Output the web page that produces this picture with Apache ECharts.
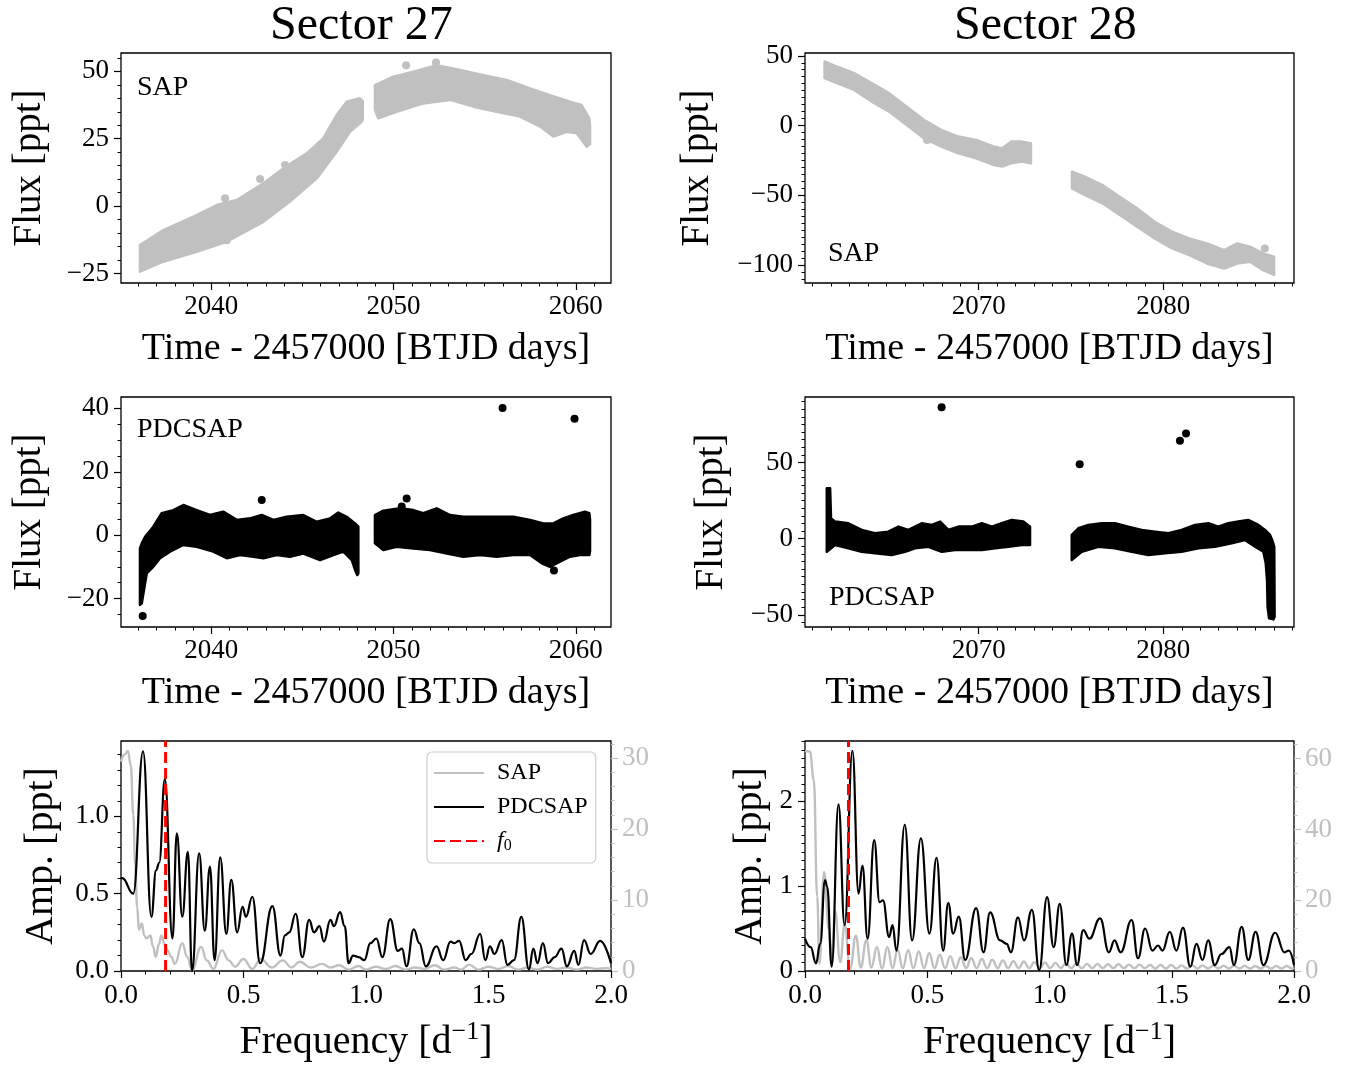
<!DOCTYPE html>
<html><head><meta charset="utf-8">
<script src="https://cdn.jsdelivr.net/npm/echarts@6/dist/echarts.min.js"></script>
<style>html,body{margin:0;padding:0;background:#fff}#c{width:1362px;height:1068px}</style>
</head><body><div id="c"></div>
<script>
// ---------------- DATA ----------------
// Sector 27 SAP: upper / lower envelope of the scatter cloud, two segments
const s27SapTopT1 = [2036.09, 2037.37, 2039.20, 2040.30, 2041.40, 2042.86, 2043.95, 2045.24, 2046.15, 2046.88, 2047.43, 2048.16, 2048.31];
const s27SapTopF1 = [-14.4, -8.85, -3.3, 0.4, 2.3, 8.5, 14.0, 19.6, 25.2, 33.8, 38.7, 40.0, 39.0];
const s27SapBotT1 = [2036.09, 2037.37, 2039.20, 2040.85, 2042.86, 2044.32, 2045.79, 2046.88, 2047.61, 2048.25, 2048.31];
const s27SapBotF1 = [-24.3, -20.6, -16.9, -13.2, -5.8, 1.7, 10.3, 20.2, 27.6, 31.3, 32];
const s27SapTopT2 = [2048.98, 2049.99, 2051.09, 2052.37, 2053.65, 2054.93, 2056.21, 2057.49, 2058.58, 2059.68, 2060.32, 2060.74, 2060.78];
const s27SapTopF2 = [44.9, 48.0, 49.9, 52.3, 50.5, 48.6, 46.8, 43.7, 41.2, 38.7, 37.5, 32.6, 30];
const s27SapBotT2 = [2048.98, 2049.16, 2050.17, 2051.63, 2053.1, 2054.38, 2055.66, 2056.94, 2058.04, 2058.77, 2059.5, 2060.05, 2060.6, 2060.78];
const s27SapBotF2 = [35.7, 32.6, 35.0, 38.1, 39.4, 36.9, 35.0, 33.2, 29.5, 25.8, 27.6, 27.0, 22.0, 23];
const s27SapOutT = [2042.68, 2044.05, 2040.76, 2040.85, 2050.69, 2052.33];
const s27SapOutF = [10.1, 15.3, 2.9, -12.6, 52.3, 53.3];

// Sector 28 SAP
const s28SapT1 = [2061.65, 2062.31, 2063.25, 2064.2, 2065.14, 2066.08, 2067.03, 2067.97, 2068.9, 2069.86, 2070.8, 2071.27, 2071.75, 2072.33, 2072.83];
const s28SapHi1 = [45.9, 42.3, 37.6, 30.4, 23.2, 13.6, 4.1, -3.1, -7.9, -10.3, -15, -16.3, -11.5, -11.5, -12.7];
const s28SapLo1 = [34, 30.4, 25.6, 17.2, 10, 0.5, -9.1, -15, -19.9, -23.4, -28.2, -29.4, -27, -25.8, -27];
const s28SapT2 = [2075.05, 2075.75, 2076.7, 2077.64, 2078.58, 2079.53, 2080.47, 2081.4, 2082.36, 2083.3, 2084.0, 2084.7, 2085.4, 2086.0];
const s28SapHi2 = [-33, -36.6, -42.6, -51, -59.3, -68.9, -76, -80.9, -84.4, -89.2, -84.4, -86.8, -91.6, -94];
const s28SapLo2 = [-45, -49.8, -55.7, -64.1, -72.5, -80.9, -88, -92.8, -98.8, -102.4, -98.8, -97.6, -103.6, -107];
const s28SapOutT = [2067.2, 2085.5];
const s28SapOutF = [-10.3, -88];

// Sector 27 PDCSAP
const s27PdcTopT1 = [2036.09, 2036.19, 2036.37, 2036.82, 2037.28, 2037.92, 2038.47, 2039.20, 2039.93, 2040.66, 2041.40, 2042.13, 2042.77, 2043.41, 2044.14, 2045.05, 2045.79, 2046.52, 2046.97, 2047.43, 2047.89, 2048.07];
const s27PdcTopF1 = [-4.2, -2.6, -0.5, 2.65, 6.9, 7.9, 9.5, 7.9, 6.35, 7.4, 4.8, 5.3, 6.35, 4.8, 5.8, 6.35, 4.2, 5.3, 7.1, 5.8, 3.7, 2.65];
const s27PdcBotT1 = [2036.09, 2036.19, 2036.46, 2036.82, 2037.19, 2037.74, 2038.47, 2039.20, 2040.11, 2040.85, 2041.58, 2042.31, 2042.86, 2043.59, 2044.32, 2045.05, 2045.97, 2046.70, 2047.25, 2047.71, 2047.89, 2048.01, 2048.07];
const s27PdcBotF1 = [-22, -21.5, -12.1, -10.0, -7.3, -5.2, -3.1, -3.7, -5.2, -7.3, -6.3, -6.8, -7.3, -6.3, -6.8, -5.8, -7.9, -6.3, -5.2, -7.9, -11.0, -12.6, -12];
const s27PdcTopT2 = [2048.98, 2049.44, 2050.36, 2051.09, 2051.63, 2052.37, 2053.10, 2053.83, 2054.75, 2055.66, 2056.57, 2057.49, 2058.22, 2058.77, 2059.31, 2059.86, 2060.5, 2060.74, 2060.78];
const s27PdcTopF2 = [6.35, 7.7, 8.45, 7.9, 6.9, 8.45, 6.35, 5.8, 5.8, 5.8, 5.8, 4.8, 3.7, 3.7, 5.3, 6.35, 7.4, 6.9, 5];
const s27PdcBotT2 = [2048.98, 2049.44, 2050.17, 2051.09, 2052.0, 2052.92, 2053.83, 2054.75, 2055.66, 2056.57, 2057.49, 2058.13, 2058.58, 2059.13, 2059.68, 2060.23, 2060.74, 2060.78];
const s27PdcBotF2 = [-2.6, -4.7, -3.7, -4.2, -4.7, -5.8, -6.8, -6.3, -6.8, -6.3, -6.3, -8.9, -10.0, -8.4, -6.8, -6.3, -6.3, -5];
const s27PdcOutT = [2055.98, 2059.93, 2042.77, 2050.72, 2050.45, 2058.8, 2036.24];
const s27PdcOutF = [40.1, 36.7, 11.1, 11.6, 9.0, -11.2, -25.5];

// Sector 28 PDCSAP
const s28PdcTopT1 = [2061.77, 2061.95, 2062.0, 2062.22, 2062.94, 2063.66, 2064.38, 2065.1, 2065.65, 2066.19, 2066.91, 2067.46, 2067.91, 2068.36, 2068.9, 2069.63, 2070.17, 2070.71, 2071.25, 2071.79, 2072.42, 2072.78];
const s28PdcTopF1 = [33.1, 33.1, 13.4, 11.2, 10.1, 5.7, 3.5, 4.6, 7.9, 5.7, 10.1, 9.0, 11.2, 5.7, 7.9, 7.9, 10.1, 7.9, 10.1, 12.3, 11.2, 7.9];
const s28PdcBotT1 = [2061.77, 2062.22, 2062.94, 2063.66, 2064.38, 2065.29, 2066.01, 2066.55, 2067.27, 2068.0, 2068.72, 2069.45, 2070.17, 2070.89, 2071.61, 2072.33, 2072.78];
const s28PdcBotF1 = [-8.6, -4.2, -6.3, -8.6, -9.6, -10.7, -8.6, -6.3, -5.3, -8.6, -7.4, -7.4, -7.4, -6.3, -5.3, -4.2, -4.2];
const s28PdcTopT2 = [2075.04, 2075.40, 2075.94, 2076.66, 2077.38, 2078.10, 2078.83, 2079.55, 2080.27, 2080.99, 2081.72, 2082.44, 2082.98, 2083.52, 2084.06, 2084.6, 2085.15, 2085.51, 2085.78, 2085.9, 2086.01, 2086.03];
const s28PdcTopF2 = [2.4, 6.8, 9.0, 10.1, 10.1, 7.9, 5.7, 4.6, 3.5, 5.7, 9.0, 10.1, 7.9, 10.1, 11.2, 12.3, 9.0, 5.7, 2.4, -0.9, -5.3, -51.2];
const s28PdcBotT2 = [2075.04, 2075.58, 2076.48, 2077.38, 2078.29, 2079.19, 2080.09, 2080.99, 2081.9, 2082.8, 2083.7, 2084.42, 2084.97, 2085.42, 2085.55, 2085.62, 2085.65, 2085.73, 2085.96];
const s28PdcBotF2 = [-14.0, -8.6, -5.3, -6.3, -8.6, -10.7, -9.6, -8.6, -6.3, -5.3, -3.1, -0.9, -5.3, -8.6, -16.2, -27.1, -44.7, -52.3, -53.0];
const s28PdcOutT = [2067.99, 2075.47, 2080.9, 2081.23];
const s28PdcOutF = [86.2, 48.8, 64.3, 69.1];

// Periodograms: Sector 27
const s27FreqPdc = [0.0,0.005,0.05,0.09,0.124,0.143,0.156,0.179,0.21,0.228,0.25,0.273,0.29,0.319,0.342,0.363,0.382,0.405,0.43,0.45,0.474,0.496,0.51,0.536,0.568,0.618,0.651,0.669,0.687,0.713,0.74,0.768,0.788,0.81,0.828,0.855,0.869,0.894,0.913,0.929,0.947,0.97,0.993,1.018,1.042,1.067,1.099,1.13,1.147,1.165,1.195,1.218,1.244,1.288,1.315,1.345,1.36,1.38,1.407,1.43,1.466,1.487,1.506,1.524,1.554,1.577,1.604,1.634,1.665,1.683,1.70,1.722,1.743,1.77,1.798,1.82,1.85,1.867,1.89,1.917,1.956,2.0];
const s27AmpPdc = [0.6,0.6,0.50,1.42,0.35,0.65,0.70,1.24,0.21,0.89,0.35,0.77,0.0,0.76,0.26,0.675,0.07,0.735,0.24,0.59,0.25,0.415,0.35,0.48,0.05,0.42,0.10,0.23,0.25,0.37,0.09,0.33,0.25,0.29,0.19,0.33,0.29,0.38,0.29,0.05,0.10,0.09,0.07,0.18,0.21,0.09,0.335,0.13,0.145,0.03,0.27,0.18,0.03,0.16,0.07,0.19,0.18,0.195,0.07,0.11,0.24,0.07,0.16,0.11,0.20,0.04,0.07,0.35,0.01,0.145,0.05,0.18,0.05,0.09,0.145,0.03,0.13,0.04,0.20,0.11,0.195,0.05];
const s27FreqSap = [0,0.015,0.028,0.04,0.05,0.058,0.066,0.073,0.085,0.095,0.103,0.12,0.13,0.142,0.155,0.165,0.178,0.19,0.205,0.22,0.25,0.27,0.29,0.327,0.35,0.377,0.412,0.44,0.465,0.50,0.536,0.57,0.616,0.66,0.696,0.73,0.775,0.82,0.855,0.89,0.93,0.97,1.0,1.04,1.08,1.12,1.16,1.2,1.24,1.28,1.32,1.36,1.39,1.42,1.46,1.5,1.54,1.58,1.62,1.66,1.70,1.74,1.78,1.82,1.86,1.9,1.94,1.98,2.0];
const s27AmpSap = [29.5,30.5,31,29,22,15,9,5.8,6.7,5,4.6,5.0,3.5,2.0,3.8,5.0,3.8,2.9,2.0,1.0,3.9,2.0,0.1,3.4,1.5,0.3,2.9,1.5,0.6,1.7,0.3,1.7,0.5,1.5,0.5,1.3,0.5,1.0,0.5,0.8,0.2,0.7,0.2,0.6,0.3,0.7,0.2,0.5,0.3,0.8,0.2,0.5,0.2,0.9,0.2,0.6,0.3,0.7,0.2,0.5,0.2,0.6,0.3,0.5,0.2,0.5,0.3,0.4,0.3];
const s27F0 = 0.182;

// Periodograms: Sector 28
const s28FreqPdc = [0.0,0.023,0.045,0.062,0.082,0.091,0.109,0.137,0.162,0.194,0.219,0.235,0.256,0.283,0.305,0.319,0.344,0.358,0.374,0.408,0.438,0.474,0.509,0.538,0.565,0.586,0.606,0.629,0.655,0.70,0.73,0.757,0.798,0.825,0.842,0.871,0.896,0.928,0.958,0.99,1.017,1.042,1.069,1.092,1.113,1.138,1.163,1.207,1.243,1.266,1.291,1.336,1.362,1.391,1.421,1.444,1.462,1.492,1.519,1.546,1.576,1.601,1.626,1.649,1.676,1.703,1.736,1.754,1.786,1.813,1.843,1.875,1.923,1.961,1.979,2.0];
const s28AmpPdc = [0.38,0.28,0.09,0.32,1.07,0.99,0.05,1.96,0.54,2.59,0.91,1.24,0.38,1.54,0.81,0.83,0.40,0.54,0.24,1.72,0.36,1.56,0.44,1.33,0.24,0.80,0.44,0.64,0.13,0.74,0.22,0.69,0.36,0.32,0.22,0.63,0.36,0.72,0.01,0.87,0.28,0.79,0.07,0.44,0.07,0.48,0.38,0.62,0.22,0.36,0.22,0.60,0.15,0.50,0.24,0.30,0.24,0.46,0.24,0.51,0.05,0.32,0.13,0.36,0.07,0.20,0.28,0.07,0.52,0.13,0.46,0.07,0.45,0.22,0.24,0.07];
const s28FreqSap = [0,0.02,0.036,0.05,0.059,0.078,0.098,0.109,0.123,0.144,0.162,0.185,0.208,0.228,0.251,0.272,0.294,0.315,0.337,0.358,0.379,0.40,0.422,0.443,0.465,0.487,0.508,0.53,0.551,0.573,0.594,0.616,0.637,0.659,0.68,0.702,0.723,0.745,0.766,0.788,0.809,0.831,0.852,0.874,0.895,0.917,0.938,0.96,0.981,1.003,1.024,1.046,1.067,1.089,1.11,1.132,1.153,1.175,1.196,1.218,1.239,1.261,1.282,1.304,1.325,1.347,1.368,1.39,1.411,1.433,1.454,1.476,1.497,1.519,1.54,1.562,1.583,1.605,1.626,1.648,1.669,1.691,1.712,1.734,1.755,1.777,1.798,1.82,1.841,1.863,1.884,1.906,1.927,1.949,1.97,1.992,2.0];
const s28AmpSap = [62.2,62,54,21,2,28,11.5,3,17,2.5,13,0.7,10,1,8.7,1,6.8,0.7,6.8,0.8,6,0.8,5.9,0.8,5.5,0.8,5.0,0.8,4.6,0.8,4.2,0.8,3.9,0.8,3.6,0.8,3.4,0.8,3.2,0.8,3.0,0.8,2.8,0.8,2.7,0.8,2.5,0.8,2.4,0.8,2.3,0.8,2.2,0.8,2.1,0.8,2.0,0.8,2.0,0.8,1.9,0.8,1.9,0.8,1.8,0.8,1.8,0.8,1.7,0.7,1.7,0.7,1.7,0.7,1.6,0.7,1.6,0.7,1.6,0.7,1.5,0.7,1.5,0.7,1.5,0.7,1.5,0.7,1.4,0.7,1.4,0.7,1.4,0.7,1.4,0.7,0.9];
const s28F0 = 0.178;

// Tick values
const ticksTime27 = [2040, 2050, 2060];
const ticksTime28 = [2070, 2080];
const ticksSap27 = [-25, 0, 25, 50];
const ticksSap28 = [-100, -50, 0, 50];
const ticksPdc27 = [-20, 0, 20, 40];
const ticksPdc28 = [-50, 0, 50];
const ticksFreq = [0, 0.5, 1.0, 1.5, 2.0];
const ticksAmp27 = [0, 0.5, 1.0];
const ticksAmpSap27 = [0, 10, 20, 30];
const ticksAmp28 = [0, 1, 2];
const ticksAmpSap28 = [0, 20, 40, 60];

// ---------------- STYLE / LAYOUT ----------------
const FONT = "'Liberation Serif', 'DejaVu Serif', serif";
const GREY = '#c0c0c0';
const grids = [
  {left:121, top:53, width:490, height:230},
  {left:805, top:53, width:489, height:230},
  {left:121, top:397, width:490, height:230},
  {left:805, top:397, width:489, height:230},
  {left:121, top:741, width:490, height:230},
  {left:805, top:741, width:489, height:230}
].map(g => Object.assign({show:true, borderColor:'#000', borderWidth:1.3, backgroundColor:'rgba(0,0,0,0)'}, g));

const minus = v => v < 0 ? '\u2212' + Math.abs(v) : String(v);
const fix1 = v => v.toFixed(1);

const xAxes = [], yAxes = [];
function minorVals(min, max, step) {
  const out = [];
  for (let k = Math.ceil(min / step - 1e-9); k <= Math.floor(max / step + 1e-9); k++) out.push(+(k * step).toFixed(6));
  return out;
}
function addAxis(list, grid, min, max, majors, minorStep, c) {
  const color = c.color || '#000';
  const base = {type:'value', gridIndex:grid, min:min, max:max, position:c.position, offset:0,
    axisLine:{show:false, onZero:false}, splitLine:{show:false}, axisPointer:{show:false}};
  const major = Object.assign({}, base, {
    axisTick:{show:true, inside:false, length:7, customValues:majors, lineStyle:{color:color, width:1.2}},
    axisLabel:{show:true, customValues:majors, formatter:c.fmt, color:color, fontSize:27, fontFamily:FONT, margin:c.margin || 10},
    name:c.name || '', nameLocation:'middle', nameGap:c.nameGap || 40, nameRotate:c.nameRotate || 0,
    nameTextStyle:Object.assign({fontSize:c.nameSize || 38, fontFamily:FONT, color:'#000'}, c.nameStyle || {})
  });
  const minor = Object.assign({}, base, {
    axisTick:{show:true, inside:false, length:3.5, customValues:minorVals(min, max, minorStep), lineStyle:{color:color, width:1}},
    axisLabel:{show:false}
  });
  const idx = list.length;
  list.push(major, minor);
  return idx;
}

const TIME = 'Time - 2457000 [BTJD days]';
const FREQ = 'Frequency [d{sup|\u22121}]';
const freqRich = {sup:{fontSize:26, fontFamily:FONT, color:'#000', padding:[0,0,20,0]}};

const xi = [];
xi[0] = addAxis(xAxes, 0, 2035.05, 2061.93, ticksTime27, 1, {position:'bottom', fmt:String, name:TIME, nameGap:47, margin:10});
xi[1] = addAxis(xAxes, 1, 2060.59, 2087.08, ticksTime28, 1, {position:'bottom', fmt:String, name:TIME, nameGap:47, margin:10});
xi[2] = addAxis(xAxes, 2, 2035.05, 2061.93, ticksTime27, 1, {position:'bottom', fmt:String, name:TIME, nameGap:47, margin:10});
xi[3] = addAxis(xAxes, 3, 2060.59, 2087.08, ticksTime28, 1, {position:'bottom', fmt:String, name:TIME, nameGap:47, margin:10});
xi[4] = addAxis(xAxes, 4, 0, 2, ticksFreq, 0.1, {position:'bottom', fmt:fix1, name:FREQ, nameGap:48, margin:11, nameSize:40, nameStyle:{rich:freqRich}});
xi[5] = addAxis(xAxes, 5, 0, 2, ticksFreq, 0.1, {position:'bottom', fmt:fix1, name:FREQ, nameGap:48, margin:11, nameSize:40, nameStyle:{rich:freqRich}});

const yi = [];
yi[0] = addAxis(yAxes, 0, -28.5, 56.8, ticksSap27, 5, {position:'left', fmt:minus, name:'Flux [ppt]', nameGap:72, nameRotate:90, margin:12, nameSize:39});
yi[1] = addAxis(yAxes, 1, -112.8, 52, ticksSap28, 5, {position:'left', fmt:minus, name:'Flux [ppt]', nameGap:88, nameRotate:90, margin:12, nameSize:39});
yi[2] = addAxis(yAxes, 2, -29, 43.6, ticksPdc27, 5, {position:'left', fmt:minus, name:'Flux [ppt]', nameGap:72, nameRotate:90, margin:12, nameSize:39});
yi[3] = addAxis(yAxes, 3, -58, 93, ticksPdc28, 5, {position:'left', fmt:minus, name:'Flux [ppt]', nameGap:74, nameRotate:90, margin:12, nameSize:39});
yi[4] = addAxis(yAxes, 4, 0, 1.487, ticksAmp27, 0.1, {position:'left', fmt:fix1, name:'Amp. [ppt]', nameGap:60, nameRotate:90, margin:12, nameSize:40});
const yi4r = addAxis(yAxes, 4, 0, 32.4, ticksAmpSap27, 2, {position:'right', fmt:String, color:GREY, margin:11});
yi[5] = addAxis(yAxes, 5, 0, 2.705, ticksAmp28, 0.1, {position:'left', fmt:String, name:'Amp. [ppt]', nameGap:35, nameRotate:90, margin:12, nameSize:40});
const yi5r = addAxis(yAxes, 5, 0, 65, ticksAmpSap28, 4, {position:'right', fmt:String, color:GREY, margin:11});

// ---------------- SERIES ----------------
function band(xIdx, yIdx, tTop, fTop, tBot, fBot, color) {
  return {
    type:'custom', xAxisIndex:xIdx, yAxisIndex:yIdx, silent:true, clip:true, z:2,
    data:[[tTop[0], fTop[0]]],
    renderItem:function (params, api) {
      const pts = [];
      for (let i = 0; i < tTop.length; i++) pts.push(api.coord([tTop[i], fTop[i]]));
      for (let i = tBot.length - 1; i >= 0; i--) pts.push(api.coord([tBot[i], fBot[i]]));
      return {type:'polygon', shape:{points:pts}, style:{fill:color, stroke:color, lineWidth:2.5, lineJoin:'round'}};
    }
  };
}
function dots(xIdx, yIdx, t, f, color) {
  return {type:'scatter', xAxisIndex:xIdx, yAxisIndex:yIdx, silent:true, z:3, symbolSize:8,
    itemStyle:{color:color, opacity:1}, data:t.map((v, i) => [v, f[i]])};
}
function curve(name, xIdx, yIdx, fr, amp, color, w, z) {
  return {type:'line', name:name, xAxisIndex:xIdx, yAxisIndex:yIdx, showSymbol:false, symbol:'none',
    smooth:0.45, smoothMonotone:'x', clip:true, silent:true, z:z,
    lineStyle:{color:color, width:w}, itemStyle:{color:color},
    data:fr.map((v, i) => [v, amp[i]])};
}
function f0Line(xIdx, yIdx, f0, ymax) {
  return {type:'line', name:'f0', xAxisIndex:xIdx, yAxisIndex:yIdx, showSymbol:false, symbol:'none', silent:true, z:6,
    lineStyle:{color:'#ff0000', width:3, type:[11,5]}, itemStyle:{color:'#ff0000'},
    data:[[f0, 0], [f0, ymax]]};
}

const series = [
  band(xi[0], yi[0], s27SapTopT1, s27SapTopF1, s27SapBotT1, s27SapBotF1, GREY),
  band(xi[0], yi[0], s27SapTopT2, s27SapTopF2, s27SapBotT2, s27SapBotF2, GREY),
  dots(xi[0], yi[0], s27SapOutT, s27SapOutF, GREY),
  band(xi[1], yi[1], s28SapT1, s28SapHi1, s28SapT1, s28SapLo1, GREY),
  band(xi[1], yi[1], s28SapT2, s28SapHi2, s28SapT2, s28SapLo2, GREY),
  dots(xi[1], yi[1], s28SapOutT, s28SapOutF, GREY),
  band(xi[2], yi[2], s27PdcTopT1, s27PdcTopF1, s27PdcBotT1, s27PdcBotF1, '#000'),
  band(xi[2], yi[2], s27PdcTopT2, s27PdcTopF2, s27PdcBotT2, s27PdcBotF2, '#000'),
  dots(xi[2], yi[2], s27PdcOutT, s27PdcOutF, '#000'),
  band(xi[3], yi[3], s28PdcTopT1, s28PdcTopF1, s28PdcBotT1, s28PdcBotF1, '#000'),
  band(xi[3], yi[3], s28PdcTopT2, s28PdcTopF2, s28PdcBotT2, s28PdcBotF2, '#000'),
  dots(xi[3], yi[3], s28PdcOutT, s28PdcOutF, '#000'),
  curve('SAP', xi[4], yi4r, s27FreqSap, s27AmpSap, GREY, 2.4, 3),
  curve('PDCSAP', xi[4], yi[4], s27FreqPdc, s27AmpPdc, '#000', 2.2, 4),
  f0Line(xi[4], yi[4], s27F0, 1.487),
  curve('SAP', xi[5], yi5r, s28FreqSap, s28AmpSap, GREY, 2.4, 3),
  curve('PDCSAP', xi[5], yi[5], s28FreqPdc, s28AmpPdc, '#000', 2.2, 4),
  f0Line(xi[5], yi[5], s28F0, 2.705)
];

const option = {
  animation:false,
  backgroundColor:'#fff',
  grid:grids,
  xAxis:xAxes,
  yAxis:yAxes,
  legend:{
    show:true, orient:'vertical', left:427, top:752, data:['SAP', 'PDCSAP', 'f0'],
    itemWidth:50, itemHeight:14, itemGap:10, padding:[9, 8, 9, 6],
    borderColor:'#d0d0d0', borderWidth:1.2, borderRadius:5, backgroundColor:'rgba(255,255,255,0.85)',
    selectedMode:false,
    itemStyle:{opacity:0},
    formatter:function (n) { return n === 'f0' ? '{i|f}{s|0}' : n; },
    textStyle:{fontSize:24, fontFamily:FONT, color:'#000', padding:[0,0,0,8],
      rich:{i:{fontSize:24, fontFamily:FONT, fontStyle:'italic', color:'#000'},
            s:{fontSize:16, fontFamily:FONT, color:'#000', padding:[10,0,0,0]}}}
  },
  graphic:[
    {type:'text', left:270, top:2, z:10, style:{text:'Sector 27', font:'48px ' + FONT, fill:'#000'}},
    {type:'text', left:954, top:2, z:10, style:{text:'Sector 28', font:'48px ' + FONT, fill:'#000'}},
    {type:'text', left:137, top:74, z:10, style:{text:'SAP', font:'28px ' + FONT, fill:'#000'}},
    {type:'text', left:828, top:240, z:10, style:{text:'SAP', font:'28px ' + FONT, fill:'#000'}},
    {type:'text', left:137, top:416, z:10, style:{text:'PDCSAP', font:'28px ' + FONT, fill:'#000'}},
    {type:'text', left:829, top:584, z:10, style:{text:'PDCSAP', font:'28px ' + FONT, fill:'#000'}}
  ],
  series:series
};

const chart = echarts.init(document.getElementById('c'), null, {renderer:'canvas'});
chart.setOption(option);
</script>
</body></html>
